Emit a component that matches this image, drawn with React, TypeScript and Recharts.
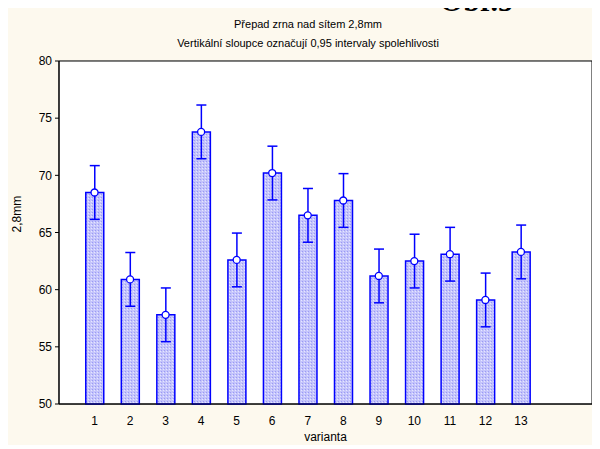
import { Bar, CartesianGrid, ComposedChart, ErrorBar, Line, ReferenceArea, XAxis, YAxis } from "recharts"

const variants = [1, 2, 3, 4, 5, 6, 7, 8, 9, 10, 11, 12, 13]
const means = [68.5, 60.9, 57.8, 73.8, 62.6, 70.2, 66.5, 67.8, 61.2, 62.5, 63.1, 59.1, 63.3]
const ciHalf = [2.35, 2.35, 2.35, 2.35, 2.35, 2.35, 2.35, 2.35, 2.35, 2.35, 2.35, 2.35, 2.35]
const xTicks = [1, 2, 3, 4, 5, 6, 7, 8, 9, 10, 11, 12, 13, 14]
const yTicks = [50, 55, 60, 65, 70, 75, 80]

const data = variants.map((v, i) => ({ v, mean: means[i], ci: ciHalf[i] }))

const FONT = "'Liberation Sans', Arial, sans-serif"
const BLUE = "#0000ff"

export default function App() {
  return (
    <div style={{ position: "relative", width: 592, height: 437, background: "#fdf9ee", fontFamily: FONT }}>
      <div
        style={{
          position: "absolute",
          left: 432,
          top: -22,
          fontFamily: "'Liberation Serif', serif",
          fontWeight: "bold",
          fontSize: 30,
          color: "#000",
          lineHeight: "30px",
        }}
      >
        Obr.5
      </div>
      <div style={{ position: "absolute", top: 7, width: 600, textAlign: "center", fontSize: 11, lineHeight: "19px", color: "#000" }}>
        <div>Přepad zrna nad sítem 2,8mm</div>
        <div>Vertikální sloupce označují 0,95 intervaly spolehlivosti</div>
      </div>
      <ComposedChart width={592} height={437} data={data} margin={{ top: 53, right: 8, bottom: 0, left: 0 }}>
        <defs>
          <pattern id="hatch" width="3" height="3" patternUnits="userSpaceOnUse">
            <rect width="3" height="3" fill="#c4c4fb" />
            <rect x="0" y="0" width="1" height="1" fill="#9a9af5" />
            <rect x="2" y="1" width="1" height="1" fill="#e6e6ff" />
          </pattern>
        </defs>
        <ReferenceArea x1={0} x2={15} y1={50} y2={80} fill="#ffffff" fillOpacity={1} stroke="none" />
        <CartesianGrid stroke="#c8c8c8" strokeWidth={1} />
        <XAxis
          dataKey="v"
          type="number"
          domain={[0, 15]}
          ticks={xTicks}
          tickFormatter={(t) => (t === 14 ? "" : String(t))}
          interval={0}
          tick={{ fill: "#000", fontSize: 12, fontFamily: FONT }}
          axisLine={{ stroke: "#000" }}
          tickLine={false}
          tickMargin={6}
          label={{ value: "varianta", position: "insideBottom", offset: 4, fill: "#000", fontSize: 12, fontFamily: FONT }}
          height={41}
        />
        <YAxis
          type="number"
          domain={[50, 80]}
          ticks={yTicks}
          interval={0}
          tick={{ fill: "#000", fontSize: 12, fontFamily: FONT }}
          axisLine={{ stroke: "#000" }}
          tickLine={{ stroke: "#000" }}
          tickSize={4}
          tickMargin={3}
          width={51}
          label={{ value: "2,8mm", angle: -90, position: "insideLeft", offset: 9, fill: "#000", fontSize: 12, fontFamily: FONT }}
        />
        <ReferenceArea x1={0} x2={15} y1={50} y2={80} fill="none" stroke="#000" strokeWidth={1} />
        <Bar dataKey="mean" barSize={18} fill="url(#hatch)" stroke={BLUE} strokeWidth={1.5} isAnimationActive={false}>
          <ErrorBar dataKey="ci" width={5} stroke={BLUE} strokeWidth={1.5} direction="y" />
        </Bar>
        <Line
          dataKey="mean"
          stroke="none"
          isAnimationActive={false}
          dot={{ r: 3.5, fill: "#fff", stroke: BLUE, strokeWidth: 1.3 }}
          activeDot={false}
        />
      </ComposedChart>
    </div>
  )
}
